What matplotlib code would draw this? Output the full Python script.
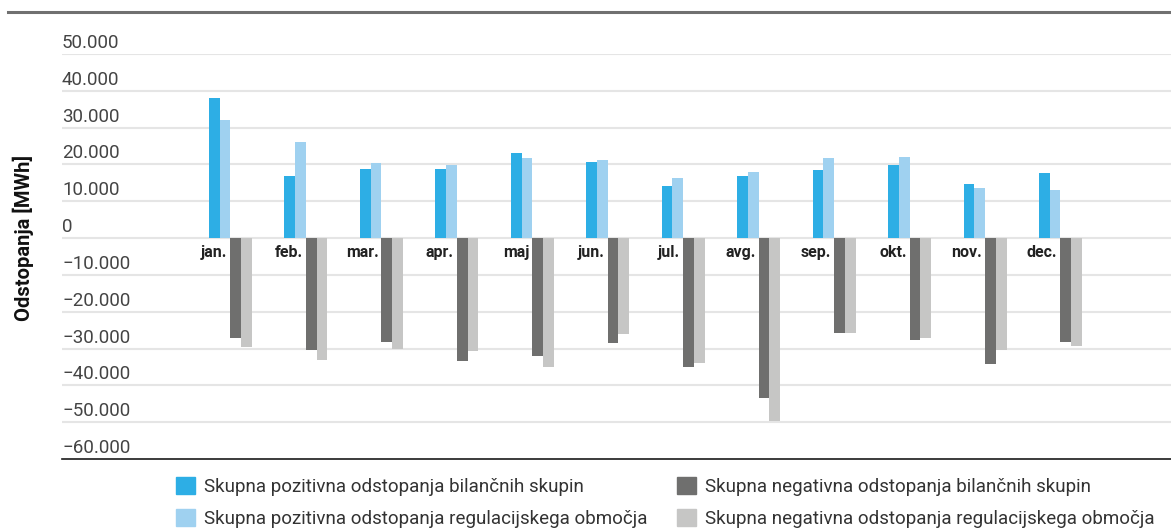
import matplotlib
matplotlib.use("Agg")
import matplotlib.pyplot as plt
import matplotlib.transforms as mtransforms
from matplotlib.lines import Line2D
from matplotlib.patches import Patch
import numpy as np

months = ["jan.", "feb.", "mar.", "apr.", "maj", "jun.", "jul.", "avg.", "sep.", "okt.", "nov.", "dec."]
pos_bs = [38000, 16900, 18800, 18800, 23200, 20700, 14200, 16900, 18600, 19900, 14800, 17700]
pos_ro = [32000, 26200, 20500, 19900, 21800, 21300, 16400, 18000, 21800, 22100, 13700, 13100]
neg_bs = [-27000, -30300, -28100, -33500, -31900, -28400, -34900, -43300, -25900, -27800, -34200, -28100]
neg_ro = [-29700, -33000, -30100, -30800, -34900, -26000, -33800, -49800, -25900, -27000, -30300, -29200]
series_labels = [
    "Skupna pozitivna odstopanja bilančnih skupin",
    "Skupna pozitivna odstopanja regulacijskega območja",
    "Skupna negativna odstopanja bilančnih skupin",
    "Skupna negativna odstopanja regulacijskega območja",
]
colors = ["#2daee5", "#9fd1f0", "#6f6f6e", "#c6c6c5"]
yticks = [50000, 40000, 30000, 20000, 10000, 0, -10000, -20000, -30000, -40000, -50000, -60000]

W, H = 1171, 531
fig = plt.figure(figsize=(W / 100, H / 100), dpi=100)
ax = fig.add_axes([62 / W, 1 - 459 / H, 1 - 62 / W, (459 - 54) / H])

x = np.arange(len(months))
w = 0.1425
data = [pos_bs, pos_ro, neg_bs, neg_ro]
for k, (vals, c) in enumerate(zip(data, colors)):
    ax.bar(x + (k - 1.5) * w, vals, width=w, color=c, linewidth=0, zorder=3, label=series_labels[k])

ax.set_ylim(-60000, 50000)
ax.set_xlim(-2.233, 12.465)
ax.set_yticks(yticks)
ax.set_yticklabels([])
ax.tick_params(left=False, bottom=False, labelbottom=False)
ax.set_xticks([])
for t in yticks:
    if t == -60000:
        continue
    ax.axhline(t, color="#e5e5e5", lw=1.5, zorder=1)
for s in ["top", "right", "left"]:
    ax.spines[s].set_visible(False)
ax.spines["bottom"].set_color("#1a1a1a")
ax.spines["bottom"].set_linewidth(1.2)

def fmt(v):
    s = f"{abs(v):,}".replace(",", ".")
    return ("\u2212" if v < 0 else "") + s

trans_y = mtransforms.blended_transform_factory(ax.transAxes, ax.transData)
for t in yticks:
    ax.text(0, t, fmt(t), transform=trans_y + mtransforms.ScaledTranslation(0, 2 / 100, fig.dpi_scale_trans),
            ha="left", va="bottom", fontsize=13.5, color="#444444", family="Roboto", fontweight="normal")

for i, m in enumerate(months):
    ax.text(i, 0, m, transform=ax.transData + mtransforms.ScaledTranslation(-3 / 100, -7 / 100, fig.dpi_scale_trans),
            ha="right", va="top", fontsize=11.5, fontweight="bold", color="#222222", family="Roboto", zorder=4)

fig.text(23 / W, 1 - 238 / H, "Odstopanja [MWh]", rotation=90, ha="center", va="center",
         fontsize=14.5, fontweight="bold", color="#111111", family="Roboto")

fig.add_artist(Line2D([8 / W, 1], [1 - 12 / H, 1 - 12 / H], color="#707070", lw=2.2, transform=fig.transFigure))

handles = [Patch(color=c, label=l) for c, l in zip(colors, series_labels)]
common = dict(frameon=False, handlelength=1.0, handleheight=1.0, handletextpad=0.5,
              labelspacing=0.7, borderpad=0, borderaxespad=0, prop={"family": "Roboto", "size": 13.5})
leg1 = fig.legend(handles=handles[:2], loc="upper left", bbox_to_anchor=(176 / W, 1 - 477 / H), **common)
leg2 = fig.legend(handles=handles[2:], loc="upper left", bbox_to_anchor=(677 / W, 1 - 477 / H), **common)
for leg in (leg1, leg2):
    for t in leg.get_texts():
        t.set_color("#333333")

fig.savefig("out.png", dpi=100)
